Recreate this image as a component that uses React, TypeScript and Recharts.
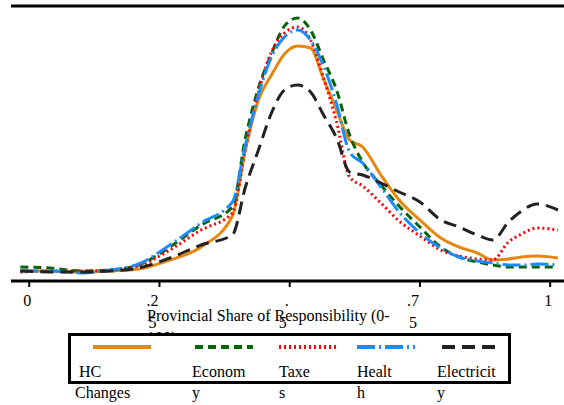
import { LineChart, Line, XAxis, YAxis, ReferenceLine } from 'recharts'

// share of responsibility (x) and kernel density per policy area
const shares = [
  -0.017, 0.04, 0.1, 0.155, 0.21, 0.27, 0.33, 0.39, 0.415, 0.44, 0.465, 0.49, 0.515, 0.54, 0.565,
  0.59, 0.615, 0.64, 0.675, 0.71, 0.75, 0.79, 0.825, 0.86, 0.89, 0.92, 0.945, 0.975, 1.015,
]
const hcChanges = [
  0.1, 0.1, 0.09, 0.1, 0.12, 0.21, 0.34, 0.65, 1.31, 1.81, 2.06, 2.27, 2.35, 2.33, 2.02,
  1.71, 1.41, 1.34, 1.06, 0.81, 0.61, 0.43, 0.34, 0.28, 0.21, 0.22, 0.24, 0.25, 0.23,
]
const economy = [
  0.14, 0.13, 0.1, 0.11, 0.16, 0.34, 0.56, 0.74, 1.43, 1.93, 2.27, 2.55, 2.63, 2.51, 2.21,
  1.91, 1.46, 1.19, 0.96, 0.75, 0.54, 0.34, 0.24, 0.19, 0.16, 0.14, 0.14, 0.14, 0.14,
]
const taxes = [
  0.09, 0.1, 0.1, 0.11, 0.15, 0.31, 0.51, 0.68, 1.33, 1.89, 2.29, 2.48, 2.54, 2.41, 2.03,
  1.59, 1.04, 0.95, 0.78, 0.6, 0.45, 0.31, 0.25, 0.22, 0.21, 0.39, 0.47, 0.53, 0.51,
]
const health = [
  0.1, 0.1, 0.08, 0.11, 0.17, 0.36, 0.58, 0.79, 1.36, 1.86, 2.24, 2.44, 2.51, 2.41, 2.15,
  1.77, 1.29, 1.18, 0.94, 0.69, 0.48, 0.33, 0.24, 0.2, 0.18, 0.16, 0.16, 0.17, 0.16,
]
const electricity = [
  0.1, 0.09, 0.09, 0.1, 0.13, 0.23, 0.36, 0.46, 0.94, 1.31, 1.68, 1.91, 1.96, 1.89, 1.66,
  1.43, 1.09, 1.06, 0.98, 0.89, 0.79, 0.61, 0.54, 0.46, 0.41, 0.59, 0.7, 0.77, 0.71,
]

const tickValues = [0, 0.25, 0.5, 0.75, 1]
const tickLabels = [['0'], ['.2', '5'], ['.', '5'], ['.7', '5'], ['1']]

const seriesNames = ['HC Changes', 'Economy', 'Taxes', 'Health', 'Electricity']
const seriesLabelLines = [['HC', 'Changes'], ['Econom', 'y'], ['Taxe', 's'], ['Healt', 'h'], ['Electricit', 'y']]

const styles = [
  { key: 'hc', color: '#e8870e', dash: undefined },
  { key: 'econ', color: '#056405', dash: '8 5' },
  { key: 'tax', color: '#ff0000', dash: '2 3' },
  { key: 'health', color: '#1a8cff', dash: '18 4 2 4' },
  { key: 'elec', color: '#222222', dash: '13 7' },
]

const data = shares.map((x, i) => ({
  x,
  hc: hcChanges[i],
  econ: economy[i],
  tax: taxes[i],
  health: health[i],
  elec: electricity[i],
}))

const FONT = "'Liberation Serif', 'DejaVu Serif', serif"
const textStyle = { fontFamily: FONT, fontSize: 16 }

function Tick(props: any) {
  const { x, payload } = props
  const lines = tickLabels[tickValues.indexOf(payload.value)] || [String(payload.value)]
  if (lines.length === 1) {
    return (
      <text x={x - 2} y={306} textAnchor="middle" style={textStyle} fill="#000">
        {lines[0]}
      </text>
    )
  }
  return (
    <g style={textStyle} fill="#000">
      <text x={x - 1} y={306} textAnchor="end" style={textStyle}>{lines[0]}</text>
      <text x={x - 7} y={328} textAnchor="middle" style={textStyle}>{lines[1]}</text>
    </g>
  )
}

function AxisTitle() {
  return (
    <g fill="#000">
      <text x={147} y={321} style={textStyle}>Provincial Share of Responsibility (0-</text>
      <text x={147} y={343} style={textStyle}>100)</text>
    </g>
  )
}

function LegendBox() {
  const lineX = [93, 195, 279, 357, 442]
  const labelX = [79, 192, 279, 357, 437]
  return (
    <div style={{ position: 'absolute', left: 0, top: 0, width: 564, height: 405, pointerEvents: 'none' }}>
      <div
        style={{
          position: 'absolute',
          left: 68,
          top: 333,
          width: 437,
          height: 45,
          border: '3px solid #000',
          background: '#fff',
        }}
      />
      <svg width={564} height={405} style={{ position: 'absolute', left: 0, top: 0 }}>
        {styles.map((s, i) => (
          <line
            key={s.key}
            x1={lineX[i]}
            x2={lineX[i] + 58}
            y1={347}
            y2={347}
            stroke={s.color}
            strokeWidth={4}
            strokeDasharray={s.dash}
          />
        ))}
        {seriesLabelLines.map((lines, i) => (
          <g key={seriesNames[i]} fill="#000">
            <text x={labelX[i]} y={377} style={textStyle}>{lines[0]}</text>
            <text x={labelX[i] - (i === 0 ? 4 : 0)} y={398} style={textStyle}>{lines[1]}</text>
          </g>
        ))}
      </svg>
    </div>
  )
}

export default function App() {
  return (
    <div
      style={{
        position: 'absolute',
        left: 0,
        top: 0,
        width: 564,
        height: 405,
        overflow: 'hidden',
        background: '#fff',
      }}
    >
      <LineChart width={580} height={405} data={data} margin={{ top: 6, right: 9, bottom: 94, left: 11 }}>
        <XAxis
          dataKey="x"
          type="number"
          domain={[-0.035, 1.04]}
          allowDataOverflow
          ticks={tickValues}
          height={30}
          axisLine={{ stroke: '#000', strokeWidth: 3 }}
          tickLine={{ stroke: '#000', strokeWidth: 2 }}
          tickSize={6}
          tick={<Tick />}
          label={<AxisTitle />}
        />
        <YAxis
          type="number"
          domain={[0, 2.75]}
          allowDataOverflow
          width={0}
          tick={false}
          tickLine={false}
          axisLine={{ stroke: '#000', strokeWidth: 3 }}
        />
        <ReferenceLine y={2.75} stroke="#000" strokeWidth={3} />
        {styles.map(s => (
          <Line
            key={s.key}
            type="monotone"
            dataKey={s.key}
            stroke={s.color}
            strokeWidth={3}
            strokeDasharray={s.dash}
            dot={false}
            isAnimationActive={false}
          />
        ))}
      </LineChart>
      <LegendBox />
    </div>
  )
}
